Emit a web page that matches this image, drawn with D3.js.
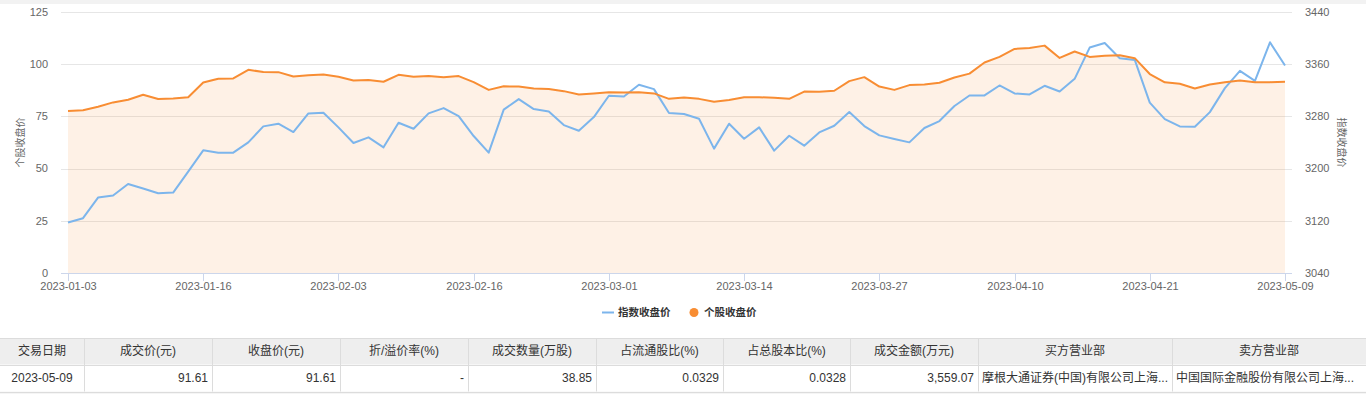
<!DOCTYPE html>
<html>
<head>
<meta charset="utf-8">
<script src="https://cdn.jsdelivr.net/npm/d3@7"></script>
<style>
  body { margin: 0; background: #fff; }
  svg { display: block; font-family: "Liberation Sans", Arial, "Noto Sans CJK SC", sans-serif; }
</style>
</head>
<body>
<svg id="chart" width="1366" height="394"></svg>
<script>
// trading days shown on the x axis
let dates = [
    '2023-01-03','2023-01-04','2023-01-05','2023-01-06','2023-01-09','2023-01-10','2023-01-11','2023-01-12','2023-01-13',
    '2023-01-16','2023-01-17','2023-01-18','2023-01-19','2023-01-20','2023-01-30','2023-01-31','2023-02-01','2023-02-02',
    '2023-02-03','2023-02-06','2023-02-07','2023-02-08','2023-02-09','2023-02-10','2023-02-13','2023-02-14','2023-02-15',
    '2023-02-16','2023-02-17','2023-02-20','2023-02-21','2023-02-22','2023-02-23','2023-02-24','2023-02-27','2023-02-28',
    '2023-03-01','2023-03-02','2023-03-03','2023-03-06','2023-03-07','2023-03-08','2023-03-09','2023-03-10','2023-03-13',
    '2023-03-14','2023-03-15','2023-03-16','2023-03-17','2023-03-20','2023-03-21','2023-03-22','2023-03-23','2023-03-24',
    '2023-03-27','2023-03-28','2023-03-29','2023-03-30','2023-03-31','2023-04-03','2023-04-04','2023-04-06','2023-04-07',
    '2023-04-10','2023-04-11','2023-04-12','2023-04-13','2023-04-14','2023-04-17','2023-04-18','2023-04-19','2023-04-20',
    '2023-04-21','2023-04-24','2023-04-25','2023-04-26','2023-04-27','2023-04-28','2023-05-04','2023-05-05','2023-05-08',
    '2023-05-09'
];

// 个股收盘价 (left axis)
let stockClose = [
    77.6, 77.9, 79.6, 81.7, 83.0, 85.4, 83.3, 83.6, 84.2, 91.2,
    93.0, 93.2, 97.3, 96.3, 96.2, 94.1, 94.7, 95.1, 94.0, 92.2,
    92.4, 91.6, 94.9, 94.0, 94.3, 93.8, 94.3, 91.4, 87.7, 89.4,
    89.3, 88.4, 88.1, 87.1, 85.5, 86.0, 86.6, 86.5, 86.6, 86.0,
    83.4, 84.1, 83.4, 82.0, 82.9, 84.2, 84.2, 83.9, 83.4, 86.9,
    86.8, 87.3, 91.9, 93.8, 89.3, 87.7, 90.0, 90.3, 91.1, 93.6,
    95.5, 100.8, 103.5, 107.3, 107.8, 108.9, 103.0, 106.1, 103.5, 104.1,
    104.3, 102.9, 95.3, 91.3, 90.6, 88.4, 90.3, 91.4, 92.2, 91.4,
    91.4, 91.61
];

// 指数收盘价 (right axis)
let indexClose = [
    3117.4, 3124.0, 3155.6, 3158.7, 3176.5, 3169.4, 3162.3, 3163.3, 3195.4, 3228.0,
    3224.4, 3224.4, 3240.2, 3264.7, 3268.8, 3256.0, 3284.6, 3285.6, 3263.2, 3239.2,
    3247.9, 3232.6, 3270.3, 3261.1, 3284.6, 3292.7, 3280.5, 3249.9, 3224.4, 3290.4,
    3306.5, 3291.2, 3287.6, 3266.7, 3258.1, 3279.0, 3311.6, 3310.6, 3328.4, 3321.8,
    3285.1, 3283.6, 3276.4, 3230.6, 3268.8, 3245.8, 3263.2, 3227.5, 3250.4, 3235.1,
    3255.5, 3265.7, 3286.6, 3265.2, 3250.9, 3245.3, 3240.2, 3262.2, 3272.9, 3296.0,
    3312.1, 3312.1, 3327.4, 3315.2, 3313.6, 3326.9, 3318.2, 3337.6, 3385.5, 3392.6,
    3369.2, 3366.6, 3301.2, 3275.9, 3264.7, 3264.2, 3286.6, 3323.3, 3349.8, 3334.5,
    3393.6, 3358.0
];

let leftTicks = [0, 25, 50, 75, 100, 125];
let rightTicks = [3040, 3120, 3200, 3280, 3360, 3440];

let tableHeaders = ['交易日期', '成交价(元)', '收盘价(元)', '折/溢价率(%)', '成交数量(万股)',
    '占流通股比(%)', '占总股本比(%)', '成交金额(万元)', '买方营业部', '卖方营业部'];
let tableRow = ['2023-05-09', '91.61', '91.61', '-', '38.85', '0.0329', '0.0328', '3,559.07',
    '摩根大通证券(中国)有限公司上海...', '中国国际金融股份有限公司上海...'];

const svg = d3.select('#chart');
const plot = { left: 61, right: 1292, top: 12, bottom: 273, pad: 7 };

// light strip at the very top
svg.append('rect').attr('x', 0).attr('y', 0).attr('width', 1366).attr('height', 4).attr('fill', '#f2f2f2');

const x = d3.scalePoint()
    .domain(dates)
    .range([plot.left + plot.pad, plot.right - plot.pad]);

const yLeft = d3.scaleLinear().domain([0, 125]).range([plot.bottom, plot.top]);
const yRight = d3.scaleLinear().domain([3040, 3440]).range([plot.bottom, plot.top]);

// grid lines
svg.append('g').selectAll('line')
    .data(leftTicks)
    .enter().append('line')
    .attr('x1', plot.left).attr('x2', plot.right)
    .attr('y1', d => Math.round(yLeft(d)) + 0.5)
    .attr('y2', d => Math.round(yLeft(d)) + 0.5)
    .attr('stroke', '#e6e6e6');

// left axis labels
svg.append('g').selectAll('text')
    .data(leftTicks)
    .enter().append('text')
    .attr('x', 48).attr('y', d => yLeft(d)).attr('dy', '0.35em')
    .attr('text-anchor', 'end')
    .attr('font-size', 11).attr('fill', '#666')
    .text(d => d);

// right axis labels
svg.append('g').selectAll('text')
    .data(rightTicks)
    .enter().append('text')
    .attr('x', 1305).attr('y', d => yRight(d)).attr('dy', '0.35em')
    .attr('font-size', 11).attr('fill', '#666')
    .text(d => d);

// axis titles
svg.append('text')
    .attr('transform', 'translate(20,' + (plot.top + plot.bottom) / 2 + ') rotate(-90)')
    .attr('text-anchor', 'middle').attr('dy', '0.35em')
    .attr('font-size', 10).attr('fill', '#666')
    .text('个股收盘价');
svg.append('text')
    .attr('transform', 'translate(1341,' + (plot.top + plot.bottom) / 2 + ') rotate(90)')
    .attr('text-anchor', 'middle').attr('dy', '0.35em')
    .attr('font-size', 10).attr('fill', '#666')
    .text('指数收盘价');

// area + line for the stock
const area = d3.area()
    .x((d, i) => x(dates[i]))
    .y0(yLeft(0))
    .y1(d => yLeft(d));

svg.append('path')
    .datum(stockClose)
    .attr('d', area)
    .attr('fill', '#f88d33')
    .attr('fill-opacity', 0.12);

const stockLine = d3.line()
    .x((d, i) => x(dates[i]))
    .y(d => yLeft(d));

const indexLine = d3.line()
    .x((d, i) => x(dates[i]))
    .y(d => yRight(d));

svg.append('path')
    .datum(indexClose)
    .attr('d', indexLine)
    .attr('fill', 'none')
    .attr('stroke', '#7cb5ec')
    .attr('stroke-width', 2)
    .attr('stroke-linejoin', 'round');

svg.append('path')
    .datum(stockClose)
    .attr('d', stockLine)
    .attr('fill', 'none')
    .attr('stroke', '#f88d33')
    .attr('stroke-width', 2)
    .attr('stroke-linejoin', 'round');

// x axis
svg.append('line')
    .attr('x1', plot.left).attr('x2', plot.right)
    .attr('y1', plot.bottom + 0.5).attr('y2', plot.bottom + 0.5)
    .attr('stroke', '#ccd6eb');

let tickDates = dates.filter((d, i) => i % 9 == 0);

let xt = svg.append('g').selectAll('g')
    .data(tickDates)
    .enter().append('g')
    .attr('transform', d => 'translate(' + (Math.round(x(d)) + 0.5) + ',0)');

xt.append('line')
    .attr('y1', plot.bottom).attr('y2', plot.bottom + 8)
    .attr('stroke', '#ccd6eb');

xt.append('text')
    .attr('y', 286).attr('dy', '0.35em')
    .attr('text-anchor', 'middle')
    .attr('font-size', 11).attr('fill', '#666')
    .text(d => d);

// legend
let legend = svg.append('g').attr('font-size', 10.5).attr('font-weight', 'bold').attr('fill', '#333');
legend.append('line')
    .attr('x1', 602).attr('x2', 614).attr('y1', 312.5).attr('y2', 312.5)
    .attr('stroke', '#7cb5ec').attr('stroke-width', 2);
legend.append('text').attr('x', 618).attr('y', 312.5).attr('dy', '0.35em').text('指数收盘价');
legend.append('circle').attr('cx', 694).attr('cy', 312.5).attr('r', 4.5).attr('fill', '#f88d33');
legend.append('text').attr('x', 704).attr('y', 312.5).attr('dy', '0.35em').text('个股收盘价');

// table below the chart
let colWidths = [84, 128, 128, 128, 128, 127, 127, 128, 194, 194];
let colX = [0];
colWidths.forEach((w, i) => colX.push(colX[i] + w));

const table = { top: 338, headH: 26.5, rowH: 27 };

svg.append('rect')
    .attr('x', 0).attr('y', table.top)
    .attr('width', 1366).attr('height', table.headH)
    .attr('fill', '#eeeeee');
svg.append('rect')
    .attr('x', 0).attr('y', table.top + table.headH + table.rowH)
    .attr('width', 1366).attr('height', 394)
    .attr('fill', '#f5f5f5');

[table.top, table.top + table.headH, table.top + table.headH + table.rowH].forEach(function(yy){
    svg.append('line')
        .attr('x1', 0).attr('x2', 1366)
        .attr('y1', Math.round(yy) + 0.5).attr('y2', Math.round(yy) + 0.5)
        .attr('stroke', '#dcdcdc');
});

svg.append('g').selectAll('line')
    .data(colX.slice(1, -1))
    .enter().append('line')
    .attr('x1', d => d + 0.5).attr('x2', d => d + 0.5)
    .attr('y1', table.top).attr('y2', table.top + table.headH + table.rowH)
    .attr('stroke', '#dcdcdc');

svg.append('g').selectAll('text')
    .data(tableHeaders)
    .enter().append('text')
    .attr('x', (d, i) => colX[i] + colWidths[i] / 2)
    .attr('y', table.top + table.headH / 2).attr('dy', '0.35em')
    .attr('text-anchor', 'middle')
    .attr('font-size', 12).attr('fill', '#333')
    .text(d => d);

svg.append('g').selectAll('text')
    .data(tableRow)
    .enter().append('text')
    .attr('x', function(d, i){
        if(i == 0) return colX[i] + colWidths[i] / 2;
        if(i >= 8) return colX[i] + 4;
        return colX[i + 1] - 4;
    })
    .attr('y', table.top + table.headH + table.rowH / 2).attr('dy', '0.35em')
    .attr('text-anchor', function(d, i){
        if(i == 0) return 'middle';
        if(i >= 8) return 'start';
        return 'end';
    })
    .attr('font-size', 12).attr('fill', '#333')
    .text(d => d);
</script>
</body>
</html>
